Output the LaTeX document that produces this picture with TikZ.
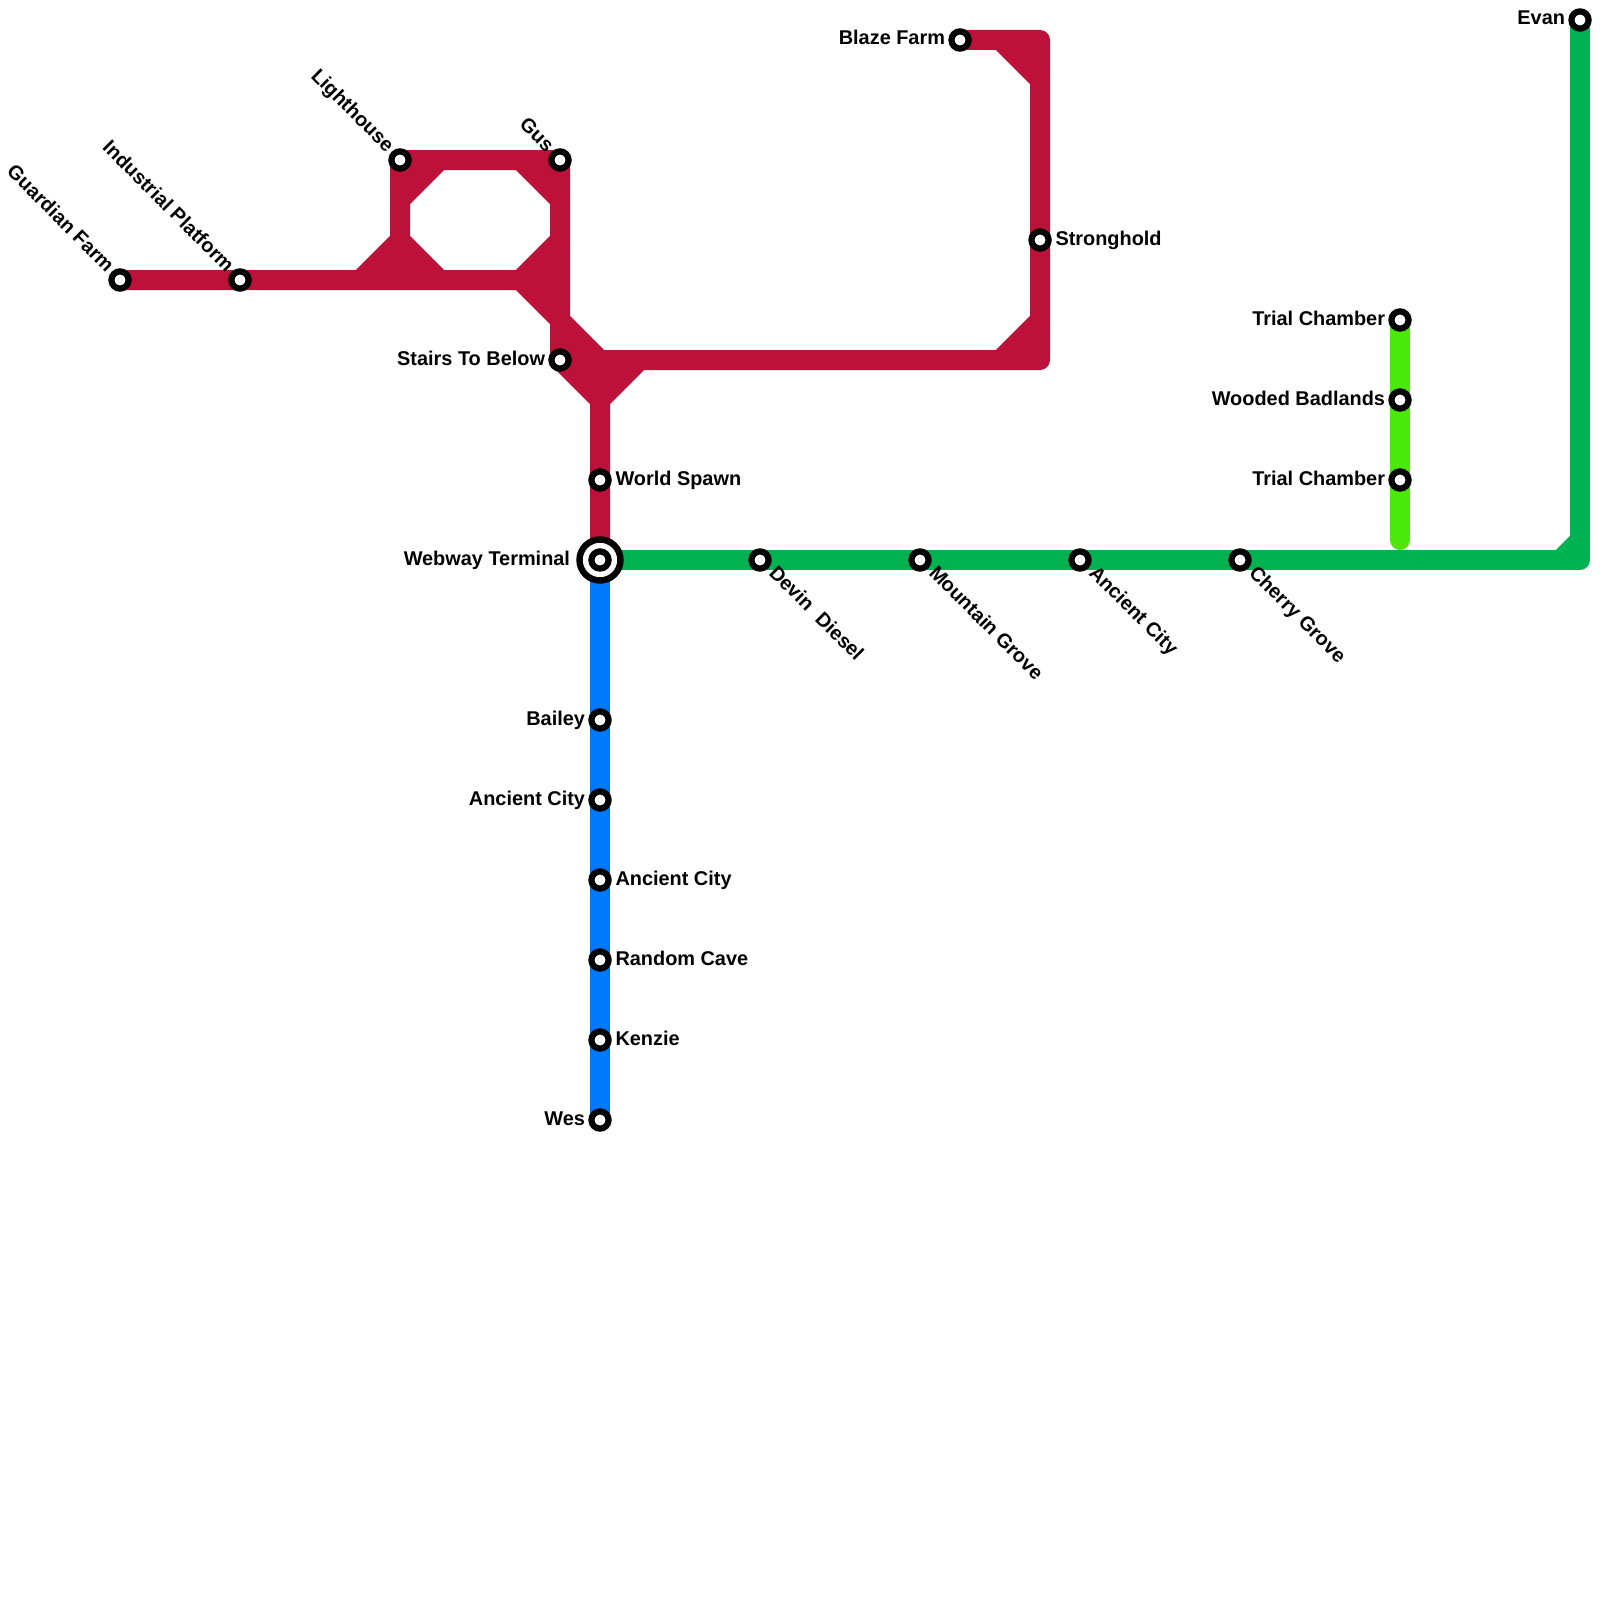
\documentclass[tikz,border=0pt]{standalone}
\usepackage{fontspec}
\setmainfont{Liberation Sans}
\usetikzlibrary{backgrounds}
\definecolor{redline}{HTML}{BC1139}
\definecolor{greenline}{HTML}{00B251}
\definecolor{blueline}{HTML}{0079FF}
\definecolor{limeline}{HTML}{4BE80B}
\tikzset{
  stationdot/.style={circle,draw=black,fill=white,line width=3.1pt,minimum size=8.6pt,inner sep=0pt},
  hubring/.style={circle,draw=black,fill=white,line width=3.2pt,minimum size=20.5pt,inner sep=0pt},
  lbl/.style={font=\bfseries\fontsize{9.95}{12}\selectfont,text=black,inner sep=0pt,outer sep=0pt},
  metro/.style={line width=10pt,line cap=round,line join=round},
}
% name, x, y, text
\newcommand{\stR}[4]{\node[stationdot] (#1) at (#2,#3) {};\node[lbl,anchor=base west] (#1l) at ([shift={(15.5,5)}]#1.center) {#4};}
\newcommand{\stL}[4]{\node[stationdot] (#1) at (#2,#3) {};\node[lbl,anchor=base east] (#1l) at ([shift={(-15,5)}]#1.center) {#4};}
\newcommand{\stUL}[4]{\node[stationdot] (#1) at (#2,#3) {};\node[lbl,anchor=base east,rotate=-45] (#1l) at ([shift={(-14,-7)}]#1.center) {#4};}
\newcommand{\stDR}[4]{\node[stationdot] (#1) at (#2,#3) {};\node[lbl,anchor=base west,rotate=-45] (#1l) at ([shift={(8,14)}]#1.center) {#4};}
\begin{document}
\begin{tikzpicture}[x=0.5pt,y=-0.5pt]
\useasboundingbox (0,0) rectangle (1600,1600);
\stUL{guardian}{120}{280}{Guardian Farm}
\stUL{industrial}{240}{280}{Industrial Platform}
\stUL{lighthouse}{400}{160}{Lighthouse}
\stUL{gus}{560}{160}{Gus}
\stL{stairs}{560}{360}{Stairs To Below}
\stL{blaze}{960}{40}{Blaze Farm}
\stR{stronghold}{1040}{240}{Stronghold}
\stR{spawn}{600}{480}{World Spawn}
\node[hubring] (webwayring) at (600,560) {};
\node[stationdot] (webway) at (600,560) {};
\node[lbl,anchor=base east] (webwayl) at ([shift={(-30,5)}]webway.center) {Webway Terminal};
\stDR{devin}{760}{560}{Devin\ \ Diesel}
\stDR{mountain}{920}{560}{Mountain Grove}
\stDR{ancientE}{1080}{560}{Ancient City}
\stDR{cherry}{1240}{560}{Cherry Grove}
\stL{evan}{1580}{20}{Evan}
\stL{trialA}{1400}{320}{Trial Chamber}
\stL{wooded}{1400}{400}{Wooded Badlands}
\stL{trialB}{1400}{480}{Trial Chamber}
\stL{bailey}{600}{720}{Bailey}
\stL{ancientA}{600}{800}{Ancient City}
\stR{ancientB}{600}{880}{Ancient City}
\stR{random}{600}{960}{Random Cave}
\stR{kenzie}{600}{1040}{Kenzie}
\stL{wes}{600}{1120}{Wes}
\begin{pgfonlayer}{background}
% bends
\coordinate (rA) at (360,280);\coordinate (rB) at (400,240);\coordinate (rC) at (440,280);
\coordinate (rD) at (400,280);\coordinate (rE) at (520,280);\coordinate (rF) at (560,240);
\coordinate (rG) at (560,320);\coordinate (rH) at (600,360);\coordinate (rI) at (640,360);
\coordinate (rJ) at (600,400);\coordinate (rK) at (1040,360);\coordinate (rL) at (1000,360);
\coordinate (rM) at (1040,320);\coordinate (rN) at (1040,40);\coordinate (rO) at (1000,40);
\coordinate (rP) at (1040,80);\coordinate (rQ) at (440,160);\coordinate (rR) at (400,200);
\coordinate (rS) at (520,160);\coordinate (rT) at (560,200);
\coordinate (gA) at (1580,560);\coordinate (gB) at (1560,560);\coordinate (gC) at (1580,540);
\coordinate (lA) at (1400,540);
% red
\fill[redline] (rA)--(rB)--(rC)--cycle;
\fill[redline] (rE)--(rF)--(rG)--cycle;
\fill[redline] (rG)--(rH)--(rI)--(rJ)--(stairs.center)--cycle;
\fill[redline] (rL)--(rM)--(rK)--cycle;
\fill[redline] (rO)--(rN)--(rP)--cycle;
\fill[redline] (lighthouse.center)--(rQ)--(rR)--cycle;
\fill[redline] (gus.center)--(rS)--(rT)--cycle;
\draw[metro,redline] (guardian.center)--(industrial.center)--(rE)--(rG)--(rH)--(rI);
\draw[metro,redline] (rA)--(rB)--(rC);
\draw[metro,redline] (rE)--(rF);
\draw[metro,redline] (rQ)--(rR);
\draw[metro,redline] (rS)--(rT);
\draw[metro,redline] (rB)--(lighthouse.center)--(gus.center)--(stairs.center)--(rJ)--(webway.center);
\draw[metro,redline] (rJ)--(rI)--(rK)--(stronghold.center)--(rN)--(blaze.center);
\draw[metro,redline] (rL)--(rM);
\draw[metro,redline] (rO)--(rP);
% blue
\draw[metro,blueline] (webway.center)--(bailey.center)--(ancientA.center)--(ancientB.center)--(random.center)--(kenzie.center)--(wes.center);
% lime
\draw[metro,limeline] (trialA.center)--(wooded.center)--(trialB.center)--(lA);
% green
\fill[greenline] (gB)--(gC)--(gA)--cycle;
\draw[metro,greenline] (webway.center)--(devin.center)--(mountain.center)--(ancientE.center)--(cherry.center)--(gA)--(evan.center);
\draw[metro,greenline] (gB)--(gC);
\end{pgfonlayer}
\end{tikzpicture}
\end{document}
